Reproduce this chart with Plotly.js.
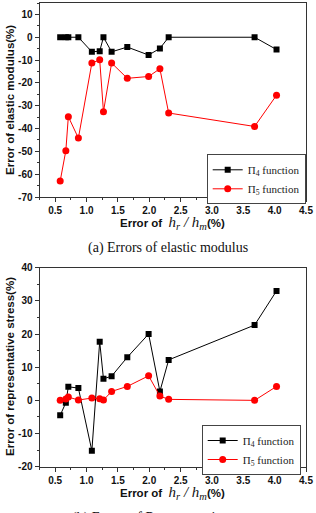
<!DOCTYPE html>
<html><head><meta charset="utf-8">
<script src="https://cdn.plot.ly/plotly-3.0.1.min.js"></script>
<style>html,body{margin:0;padding:0;background:#fff}#chart{width:316px;height:513px}</style>
</head><body><div id="chart"></div>
<script>
// shared x values: error of hr/hm (%)
const hrhm = [0.58, 0.67, 0.71, 0.87, 1.085, 1.21, 1.27, 1.40, 1.65, 1.99, 2.17, 2.31, 3.68, 4.03];
// (a) errors of elastic modulus (%)
const modulusPi4 = [0, 0, 0, 0, -6.4, -6.1, 0, -6.4, -4.3, -7.8, -4.9, 0, 0, -5.4];
const modulusPi5 = [-63, -49.7, -34.8, -44.2, -11.3, -9.9, -32.6, -11.3, -18.0, -17.2, -13.8, -33.2, -39.1, -25.4];
// (b) errors of representative stress (%)
const stressPi4 = [-4.5, -0.7, 4.1, 3.7, -15.2, 17.7, 6.5, 7.3, 13.0, 20.0, 2.7, 12.2, 22.7, 33.0];
const stressPi5 = [0, 0.4, 1.0, 0.1, 0.7, 0.5, 0.1, 2.7, 4.2, 7.4, 1.3, 0.3, 0, 4.2];
const seriesNames = ['\u03A0<sub>4</sub> function', '\u03A0<sub>5</sub> function'];
const xTicks = [0.5, 1.0, 1.5, 2.0, 2.5, 3.0, 3.5, 4.0, 4.5];
const yTicksA = [-70, -60, -50, -40, -30, -20, -10, 0, 10];
const yTicksB = [-20, -10, 0, 10, 20, 30, 40];

const W = 316, H = 513;
const px = v => v / W, py = v => 1 - v / H;

const black = '#000000', red = '#ff0000';
function tr(x, y, name, color, sym, xa, ya, leg) {
  return {x: x, y: y, name: name, type: 'scatter', mode: 'lines+markers',
    xaxis: xa, yaxis: ya, legend: leg,
    line: {color: color, width: 1},
    marker: {color: color, symbol: sym, size: sym === 'square' ? 6 : 7}};
}
const data = [
  tr(hrhm, modulusPi4, seriesNames[0], black, 'square', 'x', 'y', 'legend'),
  tr(hrhm, modulusPi5, seriesNames[1], red, 'circle', 'x', 'y', 'legend'),
  tr(hrhm, stressPi4, seriesNames[0], black, 'square', 'x2', 'y2', 'legend2'),
  tr(hrhm, stressPi5, seriesNames[1], red, 'circle', 'x2', 'y2', 'legend2')
];

const tickFont = {family: 'Liberation Sans, Arial', size: 10, color: '#111'};
function xax(anchor, domain) {
  return {anchor: anchor, domain: domain, range: [0.25, 4.5], tickvals: xTicks,
    ticktext: xTicks.map(v => '<b>' + v.toFixed(1) + '</b>'),
    ticks: 'outside', ticklen: 4, tickcolor: '#333', showgrid: false, zeroline: false,
    showline: true, linecolor: '#333', linewidth: 1, mirror: true, tickfont: tickFont,
    minor: {dtick: 0.25, ticks: 'outside', ticklen: 2, tickcolor: '#333', showgrid: false}};
}
function yax(anchor, domain, range, vals, minor) {
  return {anchor: anchor, domain: domain, range: range, tickvals: vals,
    ticktext: vals.map(v => '<b>' + v + '</b>'),
    ticks: 'outside', ticklen: 4, tickcolor: '#333', showgrid: false, zeroline: false,
    showline: true, linecolor: '#333', linewidth: 1, mirror: true, tickfont: tickFont,
    minor: {tick0: 0, dtick: minor, ticks: 'outside', ticklen: 2, tickcolor: '#333', showgrid: false}};
}
const leg = (x, y) => ({x: x, y: y, xanchor: 'left', yanchor: 'top', bgcolor: '#fff',
  bordercolor: '#444', borderwidth: 1, font: {family: 'Liberation Serif, Times New Roman', size: 11, color: '#222'},
  tracegroupgap: 0, itemwidth: 30});

const titleFont = {family: 'Liberation Sans, Arial', size: 11.5, color: '#111'};
const xTitle = '<b>Error of</b>  <span style="font-family:Liberation Serif;font-style:italic;font-size:15px">h<sub>r</sub> / h<sub>m</sub></span><b>(%)</b>';
const ann = (x, y, text, font, angle) => ({xref: 'paper', yref: 'paper', x: x, y: y,
  text: text, showarrow: false, font: font, textangle: angle || 0, xanchor: 'center', yanchor: 'middle'});
const capFont = {family: 'Liberation Serif, Times New Roman', size: 14, color: '#111'};

const layout = {
  width: W, height: H, margin: {l: 0, r: 0, t: 0, b: 0},
  paper_bgcolor: '#fff', plot_bgcolor: '#fff', showlegend: true,
  xaxis: xax('y', [px(39.5), px(306)]),
  yaxis: yax('x', [py(197), py(3)], [-70, 15], yTicksA, 5),
  xaxis2: xax('y2', [px(39.5), px(306)]),
  yaxis2: yax('x2', [py(466.7), py(267.7)], [-20, 40], yTicksB, 5),
  legend: leg(px(206.7), py(154.3)),
  legend2: leg(px(201.7), py(425)),
  annotations: [
    ann(px(10), py(100), '<b>Error of elastic modulus(%)</b>', titleFont, -90),
    ann(px(172), py(223), xTitle, titleFont),
    ann(px(168), py(248), '(a) Errors of elastic modulus', capFont),
    ann(px(10), py(367), '<b>Error of representative stress(%)</b>', titleFont, -90),
    ann(px(172), py(493), xTitle, titleFont),
    ann(px(168), py(518), '(b) Errors of Representative stress', capFont)
  ]
};
Plotly.newPlot('chart', data, layout, {displayModeBar: false, staticPlot: true});
</script></body></html>
